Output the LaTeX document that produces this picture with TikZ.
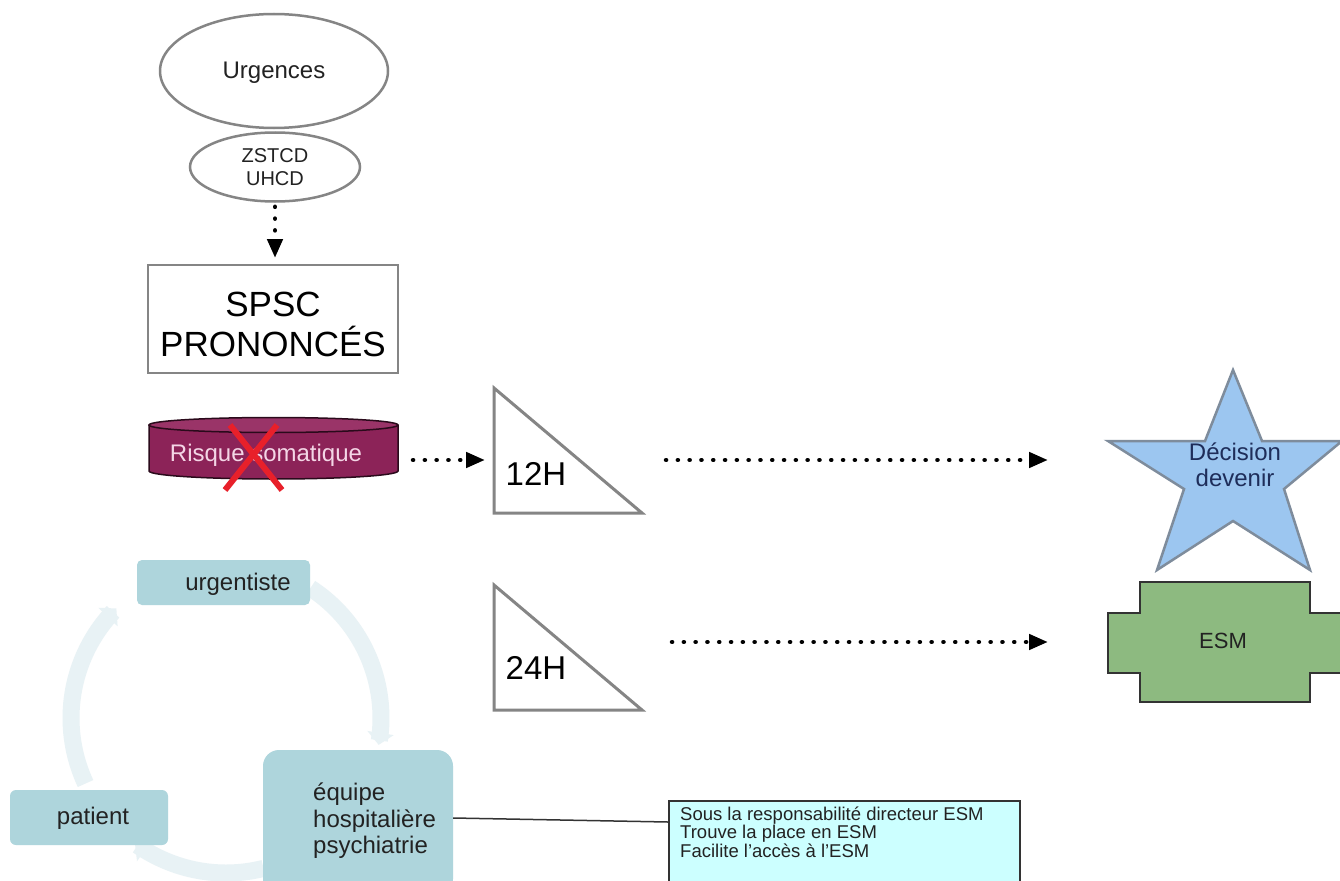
\documentclass[tikz,border=0pt]{standalone}
\usepackage{fontspec}
\setmainfont{Liberation Sans}
\usetikzlibrary{arrows.meta,shapes.geometric}
\definecolor{outl}{HTML}{858585}
\definecolor{txt}{HTML}{222222}
\definecolor{cylfill}{HTML}{8C2358}
\definecolor{cyltop}{HTML}{9A3468}
\definecolor{cyltxt}{HTML}{F4D6E6}
\definecolor{xred}{HTML}{E8202A}
\definecolor{starfill}{HTML}{9CC6F0}
\definecolor{starline}{HTML}{7E8C9C}
\definecolor{startxt}{HTML}{1E2D5A}
\definecolor{esmfill}{HTML}{8DBA80}
\definecolor{ringc}{HTML}{E8F2F5}
\definecolor{boxc}{HTML}{AED5DC}
\definecolor{notefill}{HTML}{CCFFFF}
\tikzset{
  ovalbox/.style={ellipse, draw=outl, line width=2.5pt, fill=white, inner sep=0pt, text=txt, align=center},
  dotarrow/.style={line width=4.5pt, line cap=round, dash pattern=on 0.1pt off 11.7pt,
    -{Triangle[length=19pt,width=15pt]}},
  tri/.style={draw=outl, line width=3pt, fill=white, line join=miter},
  ringarc/.style={draw=ringc, line width=17pt, -{Triangle[length=12pt,width=26pt]}},
  cycbox/.style={fill=boxc, rounded corners=#1, inner sep=0pt},
  plain/.style={inner sep=0pt, text=txt},
}
\begin{document}
\begin{tikzpicture}[x=1pt,y=-1pt]
\useasboundingbox (0,0) rectangle (1340,880);
\clip (0,0) rectangle (1340,880);
\fill[white] (0,0) rectangle (1340,880);

% --- top flow
\node[ovalbox, minimum width=228pt, minimum height=114pt] (urg) at (274,71) {};
\node[plain, font=\fontsize{24}{26}\selectfont] (urgtx) at (274,73) {Urgences};
\node[ovalbox, minimum width=170pt, minimum height=69pt, font=\fontsize{20}{23}\selectfont] (zs) at (275,167) {ZSTCD\\UHCD};
\coordinate (a1e) at (275,258);
\draw[dotarrow, shorten <=4pt] (zs.south) -- (a1e);

\node[draw=outl, line width=2.5pt, minimum width=250pt, minimum height=108pt, inner sep=0pt] (spsc) at (273,319) {};
\node[plain, align=center, font=\fontsize{35}{40}\selectfont, text=black] (spsct) at (273,324) {SPSC\\PRONONCÉS};

% --- cylinder
\node[minimum width=249pt, minimum height=62pt, inner sep=0pt] (cyl) at (273.5,449) {};
\fill[cylfill] (149,425) -- (149,471) arc[start angle=180, end angle=360, x radius=124.5pt, y radius=8pt]
  -- (398,425) arc[start angle=0, end angle=180, x radius=124.5pt, y radius=7.5pt] -- cycle;
\draw[black!70!cylfill, line width=1.5pt] (149,425) -- (149,471) arc[start angle=180, end angle=360, x radius=124.5pt, y radius=8pt] -- (398,425);
\draw[black!70!cylfill, line width=1.5pt, fill=cyltop] (273.5,425) ellipse[x radius=124.5pt, y radius=7.5pt];
\node[plain, text=cyltxt, font=\fontsize{24}{26}\selectfont] (risk) at (266,455) {Risque somatique};
\draw[xred, line width=6pt] (230,425) -- (282,490);
\draw[xred, line width=6pt] (277,425) -- (225,490);

\coordinate (a2s) at (413,460);
\coordinate (a2e) at (485,460);
\draw[dotarrow] (a2s) -- (a2e);

% --- triangles
\draw[tri] (494,388) -- (494,513) -- (642,513) -- cycle;
\node[plain, text=black, font=\fontsize{33}{36}\selectfont] (h12) at (536,474) {12H};
\draw[tri] (494,585) -- (494,710) -- (642,710) -- cycle;
\node[plain, text=black, font=\fontsize{33}{36}\selectfont] (h24) at (536,668) {24H};

\coordinate (a3s) at (666,460);
\coordinate (a3e) at (1048,460);
\draw[dotarrow] (a3s) -- (a3e);
\coordinate (a4s) at (672,642);
\coordinate (a4e) at (1048,642);
\draw[dotarrow] (a4s) -- (a4e);

% --- star
\draw[fill=starfill, draw=starline, line width=2.5pt, line join=miter]
  (1233,370) -- (1262,441) -- (1342,441) -- (1284,489) -- (1310,570) -- (1233,521)
  -- (1157,570) -- (1184,489) -- (1108,441) -- (1205,441) -- cycle;
\node[plain, text=startxt, align=center, font=\fontsize{24}{26}\selectfont] (star) at (1235,465) {Décision\\devenir};

% --- ESM
\draw[fill=esmfill, draw=black!80, line width=2pt]
  (1140,582) -- (1310,582) -- (1310,613) -- (1342,613) -- (1342,673) -- (1310,673)
  -- (1310,702) -- (1140,702) -- (1140,673) -- (1108,673) -- (1108,613) -- (1140,613) -- cycle;
\node[plain, text=txt, font=\fontsize{22}{24}\selectfont] (esm) at (1223,641) {ESM};

% --- cycle ring
\draw[ringarc] plot[domain=0:1, samples=40] ({226+155*cos(57-67*\x)},{718-155*sin(57-67*\x)});
\draw[ringarc] plot[domain=0:1, samples=40] ({226+155*cos(-76-50*\x)},{718-155*sin(-76-50*\x)});
\draw[ringarc] plot[domain=0:1, samples=40] ({226+155*cos(205-70*\x)},{718-155*sin(205-70*\x)});

\node[cycbox=5pt, minimum width=173pt, minimum height=45pt] (urgt) at (223.5,582.5) {};
\node[plain, font=\fontsize{24}{26}\selectfont] (urgtt) at (238,584) {urgentiste};
\node[cycbox=6pt, minimum width=158pt, minimum height=55pt] (pat) at (89,817.5) {};
\node[plain, font=\fontsize{24}{26}\selectfont] (patt) at (93,818) {patient};
\node[cycbox=16pt, minimum width=190pt, minimum height=145pt] (eq) at (358,822.5) {};
\node[plain, align=left, anchor=west, font=\fontsize{24}{26.5}\selectfont] (eqt) at (313,821) {équipe\\hospitalière\\psychiatrie};

% --- note box
\node[draw=black!80, line width=1.5pt, fill=notefill, minimum width=351pt, minimum height=95pt, anchor=north west, inner sep=0pt] (tb) at (668,800) {};
\node[plain, align=left, anchor=north west, font=\fontsize{18.5}{18.5}\selectfont] (tbt) at (680,806.5)
  {Sous la responsabilité directeur ESM\\Trouve la place en ESM\\Facilite l’accès à l’ESM};
\coordinate (c818) at (0,818);
\coordinate (c822) at (0,822);
\draw[black!80, line width=1.5pt] (eq.east |- c818) -- (tb.west |- c822);
\end{tikzpicture}
\end{document}
